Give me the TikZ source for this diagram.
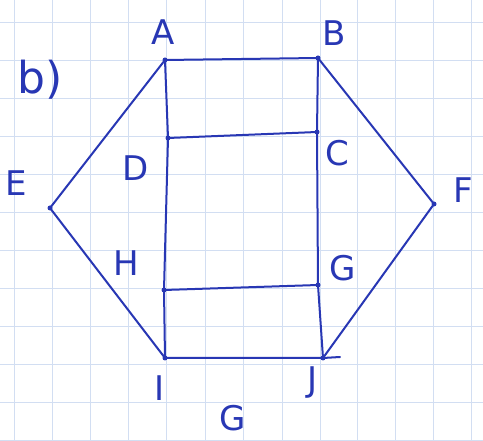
\documentclass[tikz,border=0pt]{standalone}
\usepackage{fontspec}
\setmainfont{DejaVu Sans}
\begin{document}
\begin{tikzpicture}[x=1pt,y=-1pt,
  pen/.style={draw=penblue,line width=2pt,line cap=round,line join=round},
  vtx/.style={circle,fill=penblue,inner sep=0pt,minimum size=5pt},
  lbl/.style={text=penblue,font=\fontsize{34}{34}\selectfont,inner sep=0pt}]
\definecolor{penblue}{RGB}{40,55,180}
\definecolor{gridblue}{RGB}{210,222,242}
\useasboundingbox (0,0) rectangle (483,441);
\fill[white] (0,0) rectangle (483,441);
\foreach \x in {14,52,90,128,166,205,243,282,320,357,395,433,471}
  \draw[gridblue,line width=0.8pt] (\x,0) -- (\x,441);
\foreach \y in {22,60,98,136,174,212,250,288,326,364,402,440}
  \draw[gridblue,line width=0.8pt] (0,\y) -- (483,\y);
% vertices
\node[vtx] (A) at (165,60) {};
\node[vtx] (B) at (318,58) {};
\node[vtx] (D) at (168,138) {};
\node[vtx] (C) at (317,132) {};
\node[vtx] (E) at (50,208) {};
\node[vtx] (F) at (434,204) {};
\node[vtx] (H) at (164,290) {};
\node[vtx] (G) at (318,285) {};
\node[vtx] (I) at (165,358) {};
\node[vtx] (J) at (323,358) {};
\coordinate (Jx) at (340,357);
% edges
\draw[pen] (A.center) -- (B.center);
\draw[pen] (A.center) -- (D.center);
\draw[pen] (D.center) -- (C.center);
\draw[pen] (B.center) -- (C.center);
\draw[pen] (A.center) -- (E.center);
\draw[pen] (B.center) -- (F.center);
\draw[pen] (E.center) -- (I.center);
\draw[pen] (F.center) -- (J.center);
\draw[pen] (D.center) -- (H.center);
\draw[pen] (H.center) -- (I.center);
\draw[pen] (C.center) -- (G.center);
\draw[pen] (G.center) -- (J.center);
\draw[pen] (H.center) -- (G.center);
\draw[pen] (I.center) -- (J.center) -- (Jx);
% labels
\node[lbl] (lA) at (163,32) {A};
\node[lbl] (lB) at (334,33) {B};
\node[lbl,font=\fontsize{44}{44}\selectfont] (lb) at (40,80) {b)};
\node[lbl] (lE) at (16,183) {E};
\node[lbl] (lD) at (136,168) {D};
\node[lbl] (lC) at (337,153) {C};
\node[lbl] (lF) at (463,190) {F};
\node[lbl] (lH) at (126,263) {H};
\node[lbl] (lG) at (343,268) {G};
\node[lbl] (lI) at (160,388) {I};
\node[lbl] (lJ) at (313,383) {J};
\node[lbl] (lG2) at (233,418) {G};
\end{tikzpicture}
\end{document}
